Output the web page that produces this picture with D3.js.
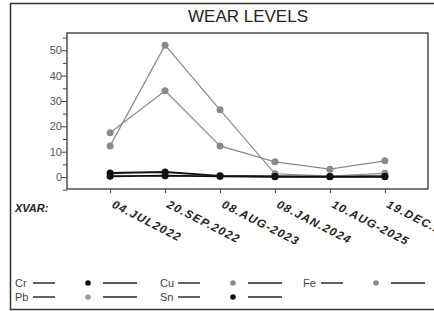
<!DOCTYPE html>
<html>
<head>
<meta charset="utf-8">
<script src="https://cdn.jsdelivr.net/npm/d3@7"></script>
<style>
  body { margin: 0; background: #fff; }
  text { font-family: Arial, "Liberation Sans", sans-serif; }
</style>
</head>
<body>
<div id="chart"></div>
<script>
// sample dates on the x axis
let dates = ['04.JUL2022', '20.SEP.2022', '08.AUG-2023', '08.JAN.2024', '10.AUG-2025', '19.DEC.2025'];

// wear metal levels per sample
let cr = [1.6, 2.0, 0.5, 0.3, 0.2, 0.3];
let cu = [17.5, 34, 12.3, 6, 3.1, 6.4];
let fe = [12.3, 52, 26.5, 1.3, 0.4, 1.5];
let pb = [0.8, 0.3, 0.3, 0.5, 0.3, 0.8];
let sn = [0.3, 0.6, 0.3, 0.1, 0.1, 0.1];

let yTicks = [0, 10, 20, 30, 40, 50];

let series = [
    { name: 'Fe', values: fe, color: '#8a8a8a', width: 1.2 },
    { name: 'Cu', values: cu, color: '#8a8a8a', width: 1.2 },
    { name: 'Pb', values: pb, color: '#9a9a9a', width: 1.2 },
    { name: 'Sn', values: sn, color: '#111', width: 1.8 },
    { name: 'Cr', values: cr, color: '#111', width: 1.8 }
];

let totalWidth = 434;
let totalHeight = 311;
let plot = { left: 67, top: 33, right: 428, bottom: 189 };

let svg = d3.select('#chart').append('svg')
    .attr('width', totalWidth)
    .attr('height', totalHeight);

// outer frame
svg.append('rect')
    .attr('x', 10.5).attr('y', 3.5)
    .attr('width', 430).attr('height', 306)
    .attr('fill', 'none').attr('stroke', '#333').attr('stroke-width', 1.5);

svg.append('text')
    .attr('x', 248).attr('y', 22)
    .attr('text-anchor', 'middle')
    .style('font-size', '17px')
    .style('fill', '#222')
    .text('WEAR LEVELS');

let x = d3.scalePoint().domain(dates).range([plot.left, plot.right]).padding(0.785);
let y = d3.scaleLinear().domain([-4.7, 56.8]).range([plot.bottom, plot.top]);

// plot frame
svg.append('rect')
    .attr('x', plot.left).attr('y', plot.top)
    .attr('width', plot.right - plot.left).attr('height', plot.bottom - plot.top)
    .attr('fill', 'none').attr('stroke', '#333').attr('stroke-width', 1.3);

// y axis with minor ticks every 5
let yAxis = svg.append('g')
    .attr('transform', 'translate(' + plot.left + ',0)')
    .call(d3.axisLeft(y).tickValues(d3.range(-5, 56, 5)).tickSize(4)
        .tickFormat(d => yTicks.includes(d) ? d : ''));
yAxis.select('.domain').remove();
yAxis.selectAll('.tick line').attr('stroke', '#444');
yAxis.selectAll('.tick text')
    .style('font-size', '11px')
    .style('fill', '#555')
    .attr('x', -5);
yAxis.selectAll('.tick').filter(d => yTicks.includes(d)).select('line').attr('x2', -6);

// x axis
let xAxis = svg.append('g')
    .attr('transform', 'translate(0,' + plot.bottom + ')')
    .call(d3.axisBottom(x).tickSize(4).tickFormat(''));
xAxis.select('.domain').remove();
xAxis.selectAll('.tick line').attr('stroke', '#444');

svg.append('text')
    .attr('x', 15).attr('y', 212)
    .style('font-size', '11px')
    .style('font-weight', 'bold')
    .style('font-style', 'italic')
    .style('fill', '#222')
    .text('XVAR:');

svg.selectAll('.xlab')
    .data(dates)
    .enter().append('text')
    .attr('class', 'xlab')
    .attr('transform', d => 'translate(' + (x(d) + 1) + ',207) rotate(27)')
    .style('font-size', '11.5px')
    .style('font-weight', 'bold')
    .style('font-style', 'italic')
    .style('letter-spacing', '1.3px')
    .style('fill', '#222')
    .text(d => d);

let line = d3.line()
    .x((d, i) => x(dates[i]))
    .y(d => y(d));

series.forEach(function(s) {
    svg.append('path')
        .datum(s.values)
        .attr('d', line)
        .attr('fill', 'none')
        .attr('stroke', s.color)
        .attr('stroke-width', s.width);
    svg.selectAll('.pt-' + s.name)
        .data(s.values)
        .enter().append('circle')
        .attr('cx', (d, i) => x(dates[i]))
        .attr('cy', d => y(d))
        .attr('r', 3.5)
        .attr('fill', s.color);
});

// legend
let legend = [
    { name: 'Cr', color: '#111', x: 15, y: 283 },
    { name: 'Cu', color: '#8a8a8a', x: 160, y: 283 },
    { name: 'Fe', color: '#8a8a8a', x: 303, y: 283 },
    { name: 'Pb', color: '#9a9a9a', x: 15, y: 297 },
    { name: 'Sn', color: '#111', x: 160, y: 297 }
];
let lg = svg.selectAll('.lg').data(legend).enter().append('g')
    .attr('transform', d => 'translate(' + d.x + ',' + d.y + ')');
lg.append('text')
    .attr('y', 4)
    .style('font-size', '11px')
    .style('fill', '#444')
    .text(d => d.name);
lg.append('line').attr('x1', 18).attr('x2', 40).attr('stroke', '#222').attr('stroke-width', 1.4);
lg.append('circle').attr('cx', 73).attr('r', 2.8).attr('fill', d => d.color);
lg.append('line').attr('x1', 88).attr('x2', 122).attr('stroke', '#222').attr('stroke-width', 1.4);
</script>
</body>
</html>
